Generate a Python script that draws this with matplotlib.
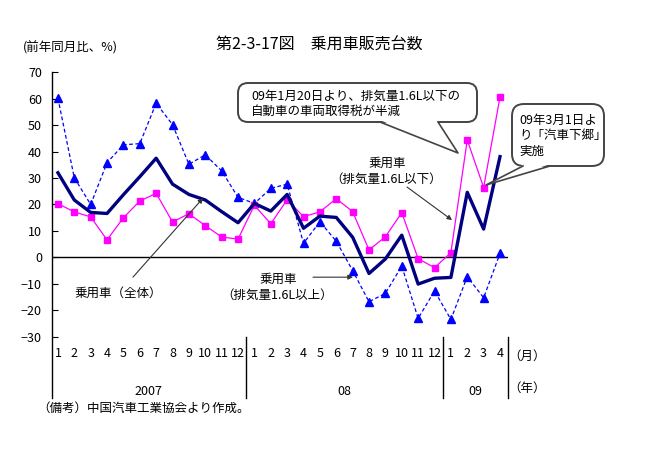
import matplotlib
matplotlib.use('Agg')
import matplotlib.pyplot as plt
from matplotlib.patches import FancyBboxPatch, Polygon
import numpy as np

plt.rcParams['font.family'] = ['Noto Sans CJK JP', 'DejaVu Sans']

# ---- data ----
months = [str(m) for m in range(1, 13)] * 2 + ['1', '2', '3', '4']
years = ['2007', '08', '09']
year_counts = [12, 12, 4]

total = [32, 21.7, 17, 16.6, 23.7, 30.5, 37.5, 27.7, 23.8, 21.7, 17.3, 13.1,
         20.4, 17.5, 23.8, 11, 15.6, 15.1, 7.6, -6.1, -0.6, 8.4, -10.1, -7.9,
         -7.6, 24.6, 10.7, 38.1]
small = [20.3, 17.2, 15.3, 6.6, 15, 21.3, 24.2, 13.4, 16.5, 12, 7.7, 6.9,
         19.7, 12.7, 21.8, 15.4, 17.2, 22.2, 17.3, 2.8, 7.8, 16.9, -0.5, -3.9,
         1.8, 44.4, 26.4, 60.7]
large = [60.2, 30.1, 20, 35.8, 42.6, 43, 58.3, 50.2, 35.2, 38.8, 32.7, 22.7,
         20.4, 26.1, 27.7, 5.3, 13.5, 6.1, -5, -16.8, -13.6, -3.3, -23.1, -12.7,
         -23.5, -7.3, -15.3, 1.5]
yticks = list(range(-30, 71, 10))

# ---- figure ----
W, H = 646, 450
fig = plt.figure(figsize=(W / 100, H / 100), dpi=100)
ax = fig.add_axes([51.7 / W, (H - 398) / H, (508.2 - 51.7) / W, (398 - 72.3) / H])
x = np.arange(len(total))
ax.set_xlim(-0.38, 27.5)
ax.set_ylim(-53.2, 70)

ax.plot(x, large, color='#0000FF', lw=0.9, ls=(0, (3, 2)), marker='^', ms=5.8,
        mfc='#0000FF', mec='#0000FF', zorder=3, clip_on=False)
ax.plot(x, small, color='#FF00FF', lw=0.9, marker='s', ms=4.6,
        mfc='#FF00FF', mec='#FF00FF', zorder=4, clip_on=False)
ax.plot(x, total, color='#000080', lw=2.4, zorder=5, clip_on=False)

ax.axhline(0, color='black', lw=1, zorder=2)

for s in ['top', 'right', 'bottom']:
    ax.spines[s].set_visible(False)
ax.spines['left'].set_linewidth(1)
ax.set_yticks(yticks)
ax.set_xticks([])
ax.tick_params(axis='y', direction='in', length=4, pad=7, labelsize=9)

for i, m in enumerate(months):
    ax.text(i, -36.2, m, ha='center', va='center', fontsize=9)

start = 0
for yl, c in zip(years, year_counts):
    end = start + c
    ax.plot([end - 0.5, end - 0.5], [-30, -53.2], color='black', lw=1, clip_on=False)
    ax.text((start + end - 1) / 2, -50.9, yl, ha='center', va='center', fontsize=9)
    start = end
ax.text(28.65, -37.6, '（月）', ha='center', va='center', fontsize=9)
ax.text(28.65, -49.6, '（年）', ha='center', va='center', fontsize=9)

arrow = dict(arrowstyle='-|>', color='#333333', lw=0.8, mutation_scale=7,
             shrinkA=0, shrinkB=0)
ax.annotate('', xy=(24.07, 14.1), xytext=(21.32, 26.6), arrowprops=arrow, zorder=6)
ax.annotate('', xy=(18.02, -7.5), xytext=(15.58, -7.5), arrowprops=arrow, zorder=6)
ax.annotate('', xy=(8.86, 22.4), xytext=(4.58, -7.5), arrowprops=arrow, zorder=6)

# ---- overlay in pixel coordinates ----
ov = fig.add_axes([0, 0, 1, 1])
ov.set_xlim(0, W)
ov.set_ylim(H, 0)
ov.axis('off')

ov.text(319, 45, '第2-3-17図　乗用車販売台数', ha='center', va='center', fontsize=11.5)
ov.text(23, 48, '(前年同月比、%)', ha='left', va='center', fontsize=9)
ov.text(37, 408, '（備考）中国汽車工業協会より作成。', ha='left', va='center', fontsize=9)

ov.text(387, 163, '乗用車', ha='center', va='center', fontsize=9)
ov.text(386, 179, '（排気量1.6L以下）', ha='center', va='center', fontsize=9)
ov.text(278, 279, '乗用車', ha='center', va='center', fontsize=9)
ov.text(277, 295, '（排気量1.6L以上）', ha='center', va='center', fontsize=9)
ov.text(118, 293, '乗用車（全体）', ha='center', va='center', fontsize=9)

def callout(x0, y0, x1, y1, base, tip, r):
    ov.add_patch(FancyBboxPatch((x0, y0), x1 - x0, y1 - y0,
                                boxstyle=f'round,pad=0,rounding_size={r}',
                                fc='white', ec='#444444', lw=1.4, zorder=5))
    (bx0, by0), (bx1, by1) = base
    ov.add_patch(Polygon([(bx0 + 1, by0 - 1.5), (bx1 - 1, by1 - 1.5), tip],
                         closed=True, fc='white', ec='none', zorder=6))
    ov.plot([bx0, tip[0], bx1], [by0, tip[1], by1], color='#444444', lw=1.2, zorder=7)

callout(238, 83, 477, 122, ((380, 122), (438, 122)), (458, 153), 10)
ov.text(251, 96, '09年1月20日より、排気量1.6L以下の', ha='left', va='center', fontsize=9, zorder=8)
ov.text(251, 111, '自動車の車両取得税が半減', ha='left', va='center', fontsize=9, zorder=8)

callout(512, 104, 604, 166, ((523, 166), (550, 166)), (486, 185), 12)
ov.text(519, 120, '09年3月1日よ', ha='left', va='center', fontsize=9, zorder=8)
ov.text(519, 136, 'り「汽車下郷」', ha='left', va='center', fontsize=9, zorder=8)
ov.text(519, 151, '実施', ha='left', va='center', fontsize=9, zorder=8)

fig.savefig('out.png', dpi=100)
